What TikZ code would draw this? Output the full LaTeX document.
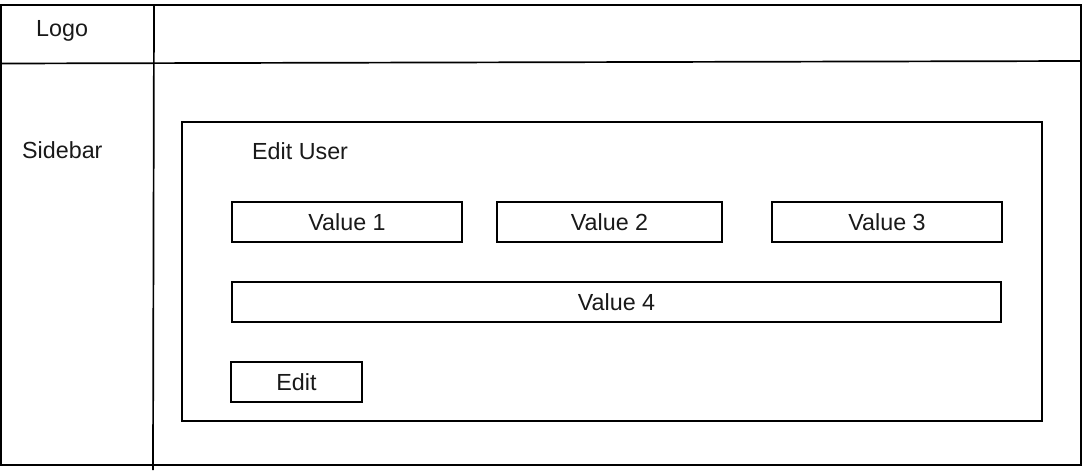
\documentclass[tikz,border=0pt]{standalone}
\usepackage{fontspec}
\setmainfont{Liberation Sans}
\begin{document}
\begin{tikzpicture}[x=1pt,y=-1pt,
  frame/.style={draw=black,line width=2pt},
  field/.style={draw=black,line width=2pt,anchor=north west,inner sep=0pt,
    font=\fontsize{23.3}{27}\selectfont,text=black!90},
  label/.style={inner sep=0pt,anchor=west,font=\fontsize{23.3}{27}\selectfont,text=black!90}]
\useasboundingbox (0,0) rectangle (1084,474);
% outer frame
\draw[frame] (1,5) rectangle (1081,465);
% header separator and sidebar divider
\coordinate (hl) at (1,63.5);
\coordinate (hr) at (1081,61);
\draw[frame,line width=1.7pt] (hl) -- (hr);
\coordinate (dt) at (154,5);
\coordinate (db) at (153,470);
\draw[frame,line width=1.7pt] (dt) -- (db);
% texts
\node[label] (logo) at (36,31) {Logo};
\node[label] (sidebar) at (22,150) {Sidebar};
% panel
\node[frame,anchor=north west,inner sep=0pt,minimum width=860pt,minimum height=299pt] (panel) at (181,121) {};
\node[label] (title) at (252,151) {Edit User};
% fields
\node[field,minimum width=230pt,minimum height=40pt] (v1) at (231,201) {Value 1};
\node[field,minimum width=225pt,minimum height=40pt] (v2) at (496,201) {Value 2};
\node[field,minimum width=230pt,minimum height=40pt] (v3) at (771,201) {Value 3};
\node[field,minimum width=769pt,minimum height=40pt] (v4) at (231,281) {Value 4};
\node[field,minimum width=131pt,minimum height=40pt] (edit) at (230,361) {Edit};
\end{tikzpicture}
\end{document}
